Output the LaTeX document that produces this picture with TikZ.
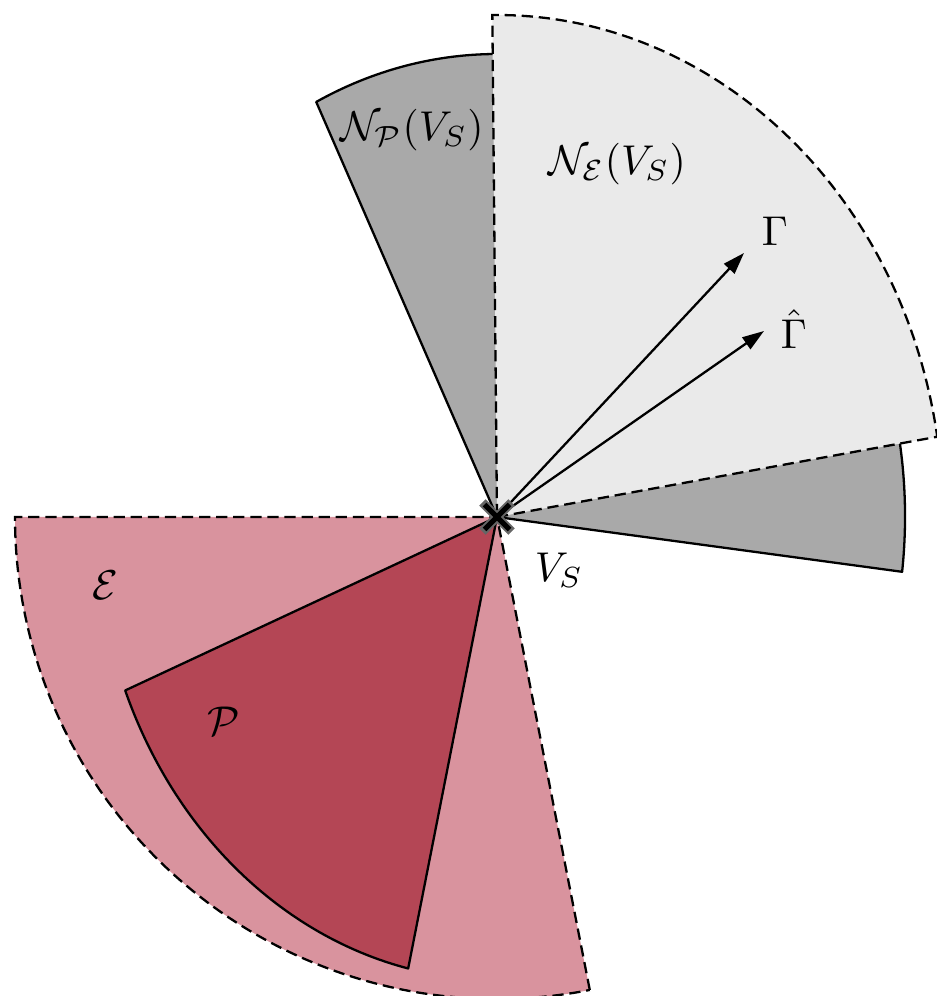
\documentclass[tikz,border=0pt]{standalone}
\usepackage{amsmath,amssymb}
\usepackage{tikz}
\usetikzlibrary{arrows.meta,shapes.misc}
\definecolor{secLight}{RGB}{234,234,234}
\definecolor{secDark}{RGB}{169,169,169}
\definecolor{secPink}{RGB}{217,147,158}
\definecolor{secRed}{RGB}{180,70,85}
\tikzset{
  secsolid/.style={draw=black, line width=0.55pt, line join=round},
  secdash/.style={draw=black, line width=0.55pt, dash pattern=on 2.7pt off 1.4pt},
  dirarrow/.style={-{Triangle[length=5.2pt,width=3.4pt]}, line width=0.55pt},
  setlab/.style={font=\fontsize{10.4}{12.5}\selectfont, inner sep=0pt},
  vscross/.style={cross out, minimum size=4.8pt, inner sep=0pt},
}

\begin{document}
\begin{tikzpicture}[x=0.24pt, y=0.24pt]
  \useasboundingbox (-497,-479) rectangle (440,517);
  \coordinate (VS) at (0,0);
  \fill[secPink] (VS) -- (180:482) arc[start angle=180, end angle=281.1, radius=482] -- cycle;
  \draw[secdash] (281.1:482) -- (VS) -- (180:482) arc[start angle=180, end angle=281.1, radius=482];
  \draw[secsolid, fill=secRed] (VS) -- (202:401 and 463)
    arc[start angle=202, end angle=257.2, x radius=401, y radius=463] -- cycle;
  \draw[secsolid, fill=secDark] (VS) -- (-6.8:408 and 463)
    arc[start angle=-6.8, end angle=116.3, x radius=408, y radius=463] -- cycle;
  \draw[secdash, fill=secLight] (VS) -- (9.2:446 and 502)
    arc[start angle=9.2, end angle=90.6, x radius=446, y radius=502] -- cycle;
  \coordinate (gam) at (247,264);
  \coordinate (gamhat) at (267,186);
  \draw[dirarrow] (VS) -- (gam);
  \draw[dirarrow] (VS) -- (gamhat);
  \node[vscross, draw=black!60, line width=2.2pt] (vsout) at (VS) {};
  \node[vscross, draw=black, line width=1.2pt] (vsin) at (VS) {};
  \node[setlab] (lblNP) at (-85,387) {$\mathcal{N}_{\mathcal{P}}(V_S)$};
  \node[setlab] (lblNE) at (120,353) {$\mathcal{N}_{\mathcal{E}}(V_S)$};
  \node[setlab] (lblGam) at (278,286) {$\Gamma$};
  \node[setlab] (lblGamHat) at (297,188) {$\hat{\Gamma}$};
  \node[setlab] (lblE) at (-392,-68) {$\mathcal{E}$};
  \node[setlab] (lblP) at (-273,-204) {$\mathcal{P}$};
  \node[setlab] (lblVS) at (62,-53) {$V_S$};
\end{tikzpicture}
\end{document}
